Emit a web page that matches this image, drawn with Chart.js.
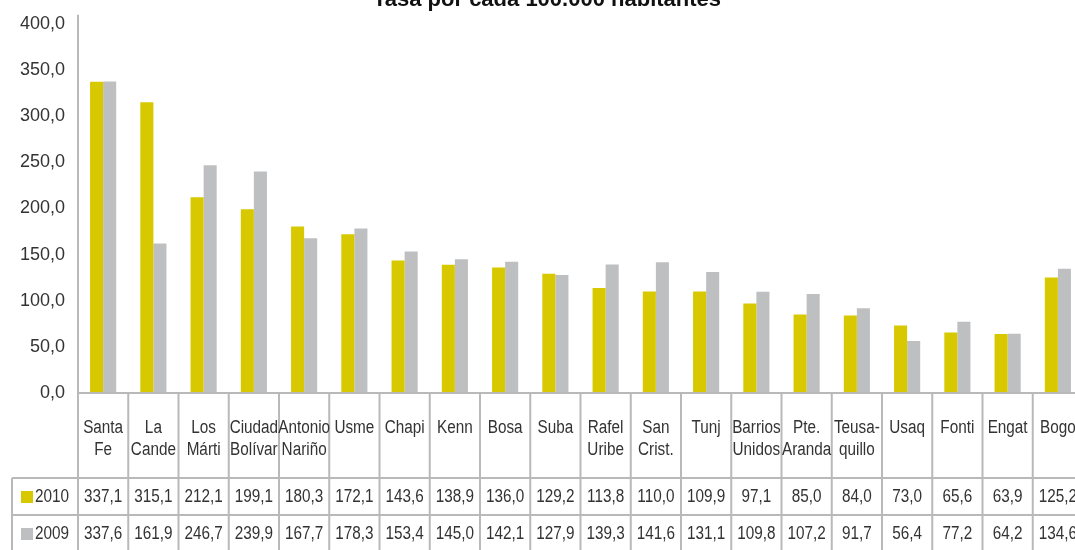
<!DOCTYPE html>
<html>
<head>
<meta charset="utf-8">
<script src="https://cdn.jsdelivr.net/npm/chart.js@4"></script>
<style>
  html, body { margin: 0; padding: 0; background: #fff; overflow: hidden; }
  #wrap { width: 1095px; height: 550px; }
</style>
</head>
<body>
<div id="wrap"><canvas id="chart" width="1095" height="550"></canvas></div>
<script>
// ── Data ──────────────────────────────────────────────────────
const localidades = [
  ['Santa', 'Fe'], ['La', 'Cande'], ['Los', 'Márti'], ['Ciudad', 'Bolívar'],
  ['Antonio', 'Nariño'], ['Usme'], ['Chapi'], ['Kenn'], ['Bosa'], ['Suba'],
  ['Rafel', 'Uribe'], ['San', 'Crist.'], ['Tunj'], ['Barrios', 'Unidos'],
  ['Pte.', 'Aranda'], ['Teusa-', 'quillo'], ['Usaq'], ['Fonti'], ['Engat'], ['Bogo'],
];
const tasa2010 = [337.1, 315.1, 212.1, 199.1, 180.3, 172.1, 143.6, 138.9, 136.0, 129.2,
                  113.8, 110.0, 109.9, 97.1, 85.0, 84.0, 73.0, 65.6, 63.9, 125.2];
const tasa2009 = [337.6, 161.9, 246.7, 239.9, 167.7, 178.3, 153.4, 145.0, 142.1, 127.9,
                  139.3, 141.6, 131.1, 109.8, 107.2, 91.7, 56.4, 77.2, 64.2, 134.6];
const yTicks   = [0, 50, 100, 150, 200, 250, 300, 350, 400];
const titulo   = 'Tasa por cada 100.000 habitantes';

const COLOR_2010 = '#d8c800';
const COLOR_2009 = '#bebfc1';
const LINE       = '#b9b9b9';
const TEXT       = '#333333';
const SANS       = '"Liberation Sans", Arial, sans-serif';

const fmt = v => v.toFixed(1).replace('.', ',');

// no narrow face installed, so squeeze the regular one horizontally
function narrowText(ctx, text, x, y, sx = 0.85) {
  ctx.save();
  ctx.translate(x, y);
  ctx.scale(sx, 1);
  ctx.fillText(text, 0, 0);
  ctx.restore();
}

// ── Data table under the plot, drawn from the x scale ─────────
const dataTable = {
  id: 'dataTable',
  afterDraw(chart) {
    const { ctx, chartArea, scales: { x } } = chart;
    const w      = (x.right - x.left) / localidades.length;
    const top    = chartArea.bottom;
    const hdrBot = top + 85;
    const row1   = hdrBot + 37;
    const bottom = chart.height + 2;
    const leftX  = 12;

    ctx.save();
    ctx.strokeStyle = LINE;
    ctx.lineWidth = 2;

    // y axis line (a bit above the top tick, as in the original)
    ctx.beginPath();
    ctx.moveTo(x.left, chartArea.top - 9);
    ctx.lineTo(x.left, top);
    ctx.stroke();

    ctx.beginPath();
    ctx.moveTo(x.left, top);   ctx.lineTo(x.right, top);
    ctx.moveTo(leftX, hdrBot); ctx.lineTo(x.right, hdrBot);
    ctx.moveTo(leftX, row1);   ctx.lineTo(x.right, row1);
    ctx.moveTo(leftX, hdrBot); ctx.lineTo(leftX, bottom);
    for (let i = 0; i <= localidades.length; i++) {
      const xx = x.left + i * w;
      ctx.moveTo(xx, top); ctx.lineTo(xx, bottom);
    }
    ctx.stroke();

    ctx.fillStyle = TEXT;
    ctx.textAlign = 'center';
    ctx.textBaseline = 'middle';
    ctx.font = '18px ' + SANS;

    localidades.forEach((lbl, i) => {
      const cx = x.getPixelForValue(i);
      lbl.forEach((line, j) => narrowText(ctx, line, cx, top + 35 + j * 22));
      narrowText(ctx, fmt(tasa2010[i]), cx, hdrBot + 19);
      narrowText(ctx, fmt(tasa2009[i]), cx, row1 + 19);
    });

    // series keys
    ctx.textAlign = 'left';
    [[COLOR_2010, '2010', hdrBot + 19], [COLOR_2009, '2009', row1 + 19]].forEach(([c, t, y]) => {
      ctx.fillStyle = c;
      ctx.fillRect(21, y - 6, 12, 12);
      ctx.fillStyle = TEXT;
      narrowText(ctx, t, 35, y);
    });

    // title, clipped by the top edge
    ctx.textAlign = 'center';
    ctx.textBaseline = 'alphabetic';
    ctx.font = 'bold 22px ' + SANS;
    ctx.fillStyle = '#111';
    ctx.fillText(titulo, 547, 6);
    ctx.restore();
  },
};

new Chart(document.getElementById('chart'), {
  type: 'bar',
  data: {
    labels: localidades,
    datasets: [
      { label: '2010', data: tasa2010, backgroundColor: COLOR_2010 },
      { label: '2009', data: tasa2009, backgroundColor: COLOR_2009 },
    ],
  },
  options: {
    responsive: false,
    animation: false,
    layout: { padding: { top: 21, bottom: 157, left: 0, right: 12 } },
    datasets: { bar: { categoryPercentage: 0.52, barPercentage: 1.0 } },
    plugins: { legend: { display: false }, tooltip: { enabled: false } },
    scales: {
      x: { display: false },
      y: {
        min: 0, max: 400,
        afterBuildTicks: axis => { axis.ticks = yTicks.map(v => ({ value: v })); },
        afterFit: axis => { axis.width = 78; },
        grid: { display: false, drawTicks: false },
        border: { display: false },
        ticks: {
          padding: 13,
          color: TEXT,
          font: { family: SANS, size: 18 },
          callback: v => fmt(v),
        },
      },
    },
  },
  plugins: [dataTable],
});
</script>
</body>
</html>
